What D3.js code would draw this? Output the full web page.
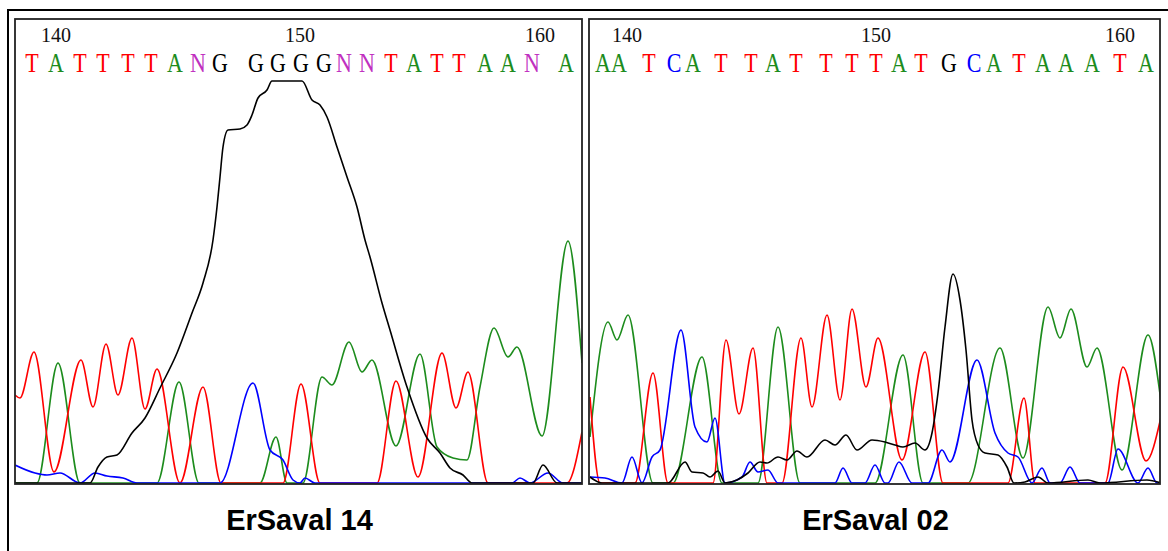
<!DOCTYPE html>
<html>
<head>
<meta charset="utf-8">
<script src="https://cdn.jsdelivr.net/npm/d3@7"></script>
<style>
  body { margin: 0; background: #fff; }
  svg { display: block; }
</style>
</head>
<body>
<div id="chart"></div>
<script>
// trace data: [scan position, signal intensity]
// ---- ErSaval 14 ----
var p1Green = [[0,0],[22,0],[43,120],[65,0],[142,0],[164,101],[184,0],[245,0],[261,46],[272,0],[288,0],[307,106],[317,98],[334,141],[347,111],[357,123],[381,37],[405,129],[422,36],[438,25],[452,23],[465,96],[479,155],[493,126],[502,136],[527,47],[553,242],[567,120]];
var p1Red = [[0,88],[5,85],[19,131],[39,11],[66,123],[78,76],[91,139],[103,88],[117,145],[130,74],[142,114],[165,0],[188,96],[206,0],[268,0],[286,99],[305,0],[362,0],[381,102],[403,6],[427,130],[441,75],[453,111],[473,0],[552,0],[567,51]];
var p1Blue = [[0,18],[20,10],[32,8],[45,10],[65,0],[80,10],[92,7],[108,5],[122,0],[205,0],[238,100],[255,33],[268,23],[278,3],[285,0],[290,5],[300,0],[497,0],[505,5],[515,0],[533,10],[548,0],[567,0]];
var p1Black = [[0,0],[75,0],[83,16],[92,26],[102,28],[117,50],[130,65],[145,95],[162,130],[177,170],[188,200],[198,243],[202,276],[205,306],[208,336],[213,353],[225,354],[232,358],[237,368],[243,385],[252,393],[257,402],[287,402],[297,383],[305,378],[312,366],[322,336],[332,306],[342,276],[350,243],[355,226],[367,180],[375,153],[392,96],[412,45],[425,30],[435,15],[448,8],[457,0],[518,0],[528,18],[542,0],[567,0]];
var p1Bases = ["T","A","T","T","T","T","A","N","G","G","G","G","G","N","N","T","A","T","T","A","A","N","A"];
var p1BasePos = [17,41,65,88,113,136,160,183,205,241,263,286,309,329,352,376,399,422,444,470,493,517,551];
var p1Ticks = [140,150,160];
var p1TickPos = [41,285,525];

// ---- ErSaval 02 ----
var p2Green = [[1,46],[19,161],[28,143],[39,168],[64,0],[84,0],[113,126],[133,0],[169,0],[189,156],[211,0],[286,0],[314,128],[334,0],[379,0],[411,135],[434,25],[459,176],[471,145],[482,174],[498,116],[508,135],[533,13],[559,148],[572,81]];
var p2Red = [[1,86],[11,0],[46,0],[64,110],[79,0],[124,0],[137,143],[150,69],[164,135],[178,0],[193,0],[212,145],[223,76],[238,168],[251,83],[263,174],[277,96],[289,145],[313,23],[336,131],[354,0],[419,0],[435,85],[446,0],[516,0],[534,116],[557,22],[572,66]];
var p2Blue = [[1,6],[16,5],[33,0],[43,26],[53,0],[63,26],[71,33],[92,153],[106,56],[118,41],[126,65],[136,0],[153,6],[161,21],[169,11],[179,13],[189,0],[246,0],[254,15],[263,0],[276,0],[286,18],[296,0],[299,0],[310,21],[323,0],[339,0],[353,33],[361,21],[388,123],[406,50],[419,30],[429,26],[443,0],[453,15],[461,0],[471,0],[481,16],[491,0],[519,0],[529,34],[549,0],[559,15],[568,0],[572,0]];
var p2Black = [[1,6],[13,0],[79,0],[96,21],[103,11],[114,10],[121,6],[129,12],[136,0],[148,3],[159,10],[171,21],[178,20],[189,26],[198,23],[208,32],[218,26],[236,43],[246,38],[257,48],[268,33],[283,43],[296,41],[306,38],[314,36],[326,40],[336,33],[343,50],[349,90],[356,156],[364,209],[371,183],[377,133],[383,63],[389,38],[396,30],[409,28],[418,16],[425,0],[436,1],[449,6],[459,0],[499,3],[511,0],[558,3],[572,0]];
var p2Bases = ["A","A","T","C","A","T","T","A","T","T","T","T","A","T","G","C","A","T","A","A","A","T","A"];
var p2BasePos = [14,30,60,85,104,132,162,184,207,237,263,287,310,332,360,385,405,430,454,477,503,531,557];
var p2Ticks = [140,150,160];
var p2TickPos = [38,287,531];

var titles = ["ErSaval 14", "ErSaval 02"];

// base colours, as in the trace viewer
var baseColor = { A: "#1d8c1d", C: "#0000ff", G: "#000000", T: "#ff0000", N: "#c030c0" };
var traceColor = { A: "#1d8c1d", C: "#0000ff", G: "#000000", T: "#ff0000" };

var width = 1168;
var height = 551;

var svg = d3.select("#chart")
    .append("svg")
    .attr("width", width)
    .attr("height", height);

// outer frame (bottom runs past the picture)
svg.append("rect")
    .attr("x", 8)
    .attr("y", 10)
    .attr("width", 1175)
    .attr("height", 600)
    .attr("fill", "none")
    .attr("stroke", "#000")
    .attr("stroke-width", 2);

// note: "top" is taken by window.top, so use plotTop
var plotTop = 19, plotBottom = 484;

// intensity scale is shared by both panels
var y = d3.scaleLinear()
    .domain([0, 402])
    .range([plotBottom - 1, 81]);

var panels = [
  { left: 15, right: 582, traces: [["A", p1Green], ["T", p1Red], ["C", p1Blue], ["G", p1Black]],
    bases: p1Bases, basePos: p1BasePos, ticks: p1Ticks, tickPos: p1TickPos, title: titles[0], span: 567 },
  { left: 589, right: 1160, traces: [["A", p2Green], ["T", p2Red], ["C", p2Blue], ["G", p2Black]],
    bases: p2Bases, basePos: p2BasePos, ticks: p2Ticks, tickPos: p2TickPos, title: titles[1], span: 571 }
];

panels.forEach(function(p, i) {
  var x = d3.scaleLinear()
      .domain([0, p.span])
      .range([p.left, p.right]);

  var g = svg.append("g").attr("class", "panel");

  g.append("clipPath")
      .attr("id", "clip" + i)
    .append("rect")
      .attr("x", p.left)
      .attr("y", plotTop)
      .attr("width", p.right - p.left)
      .attr("height", plotBottom - plotTop);

  var line = d3.line()
      .x(function(d) { return x(d[0]); })
      .y(function(d) { return y(d[1]); })
      .curve(d3.curveMonotoneX);

  g.append("g")
      .attr("clip-path", "url(#clip" + i + ")")
    .selectAll("path")
    .data(p.traces)
    .enter()
    .append("path")
      .attr("d", function(d) { return line(d[1]); })
      .attr("fill", "none")
      .attr("stroke", function(d) { return traceColor[d[0]]; })
      .attr("stroke-width", 1.6);

  // position numbers
  g.selectAll(".tick")
    .data(p.ticks)
    .enter()
    .append("text")
      .attr("class", "tick")
      .attr("x", function(d, j) { return x(p.tickPos[j]); })
      .attr("y", 42)
      .attr("text-anchor", "middle")
      .attr("font-family", "Liberation Serif, Times New Roman, serif")
      .attr("font-size", 20)
      .attr("fill", "#111")
      .text(function(d) { return d; });

  // base calls (viewer font is a bit taller than wide)
  g.selectAll(".base")
    .data(p.bases)
    .enter()
    .append("text")
      .attr("class", "base")
      .attr("transform", function(d, j) { return "translate(" + x(p.basePos[j]) + ",72) scale(1,1.2)"; })
      .attr("text-anchor", "middle")
      .attr("font-family", "Liberation Serif, Times New Roman, serif")
      .attr("font-size", 22)
      .attr("fill", function(d) { return baseColor[d]; })
      .text(function(d) { return d; });

  // panel border
  g.append("rect")
      .attr("x", p.left)
      .attr("y", plotTop)
      .attr("width", p.right - p.left)
      .attr("height", plotBottom - plotTop)
      .attr("fill", "none")
      .attr("stroke", "#222")
      .attr("stroke-width", 1.8);

  svg.append("text")
      .attr("x", (p.left + p.right) / 2 + 1)
      .attr("y", 530)
      .attr("text-anchor", "middle")
      .attr("font-family", "Liberation Sans, Arial, sans-serif")
      .attr("font-weight", "bold")
      .attr("font-size", 29)
      .attr("fill", "#000")
      .text(p.title);
});
</script>
</body>
</html>
